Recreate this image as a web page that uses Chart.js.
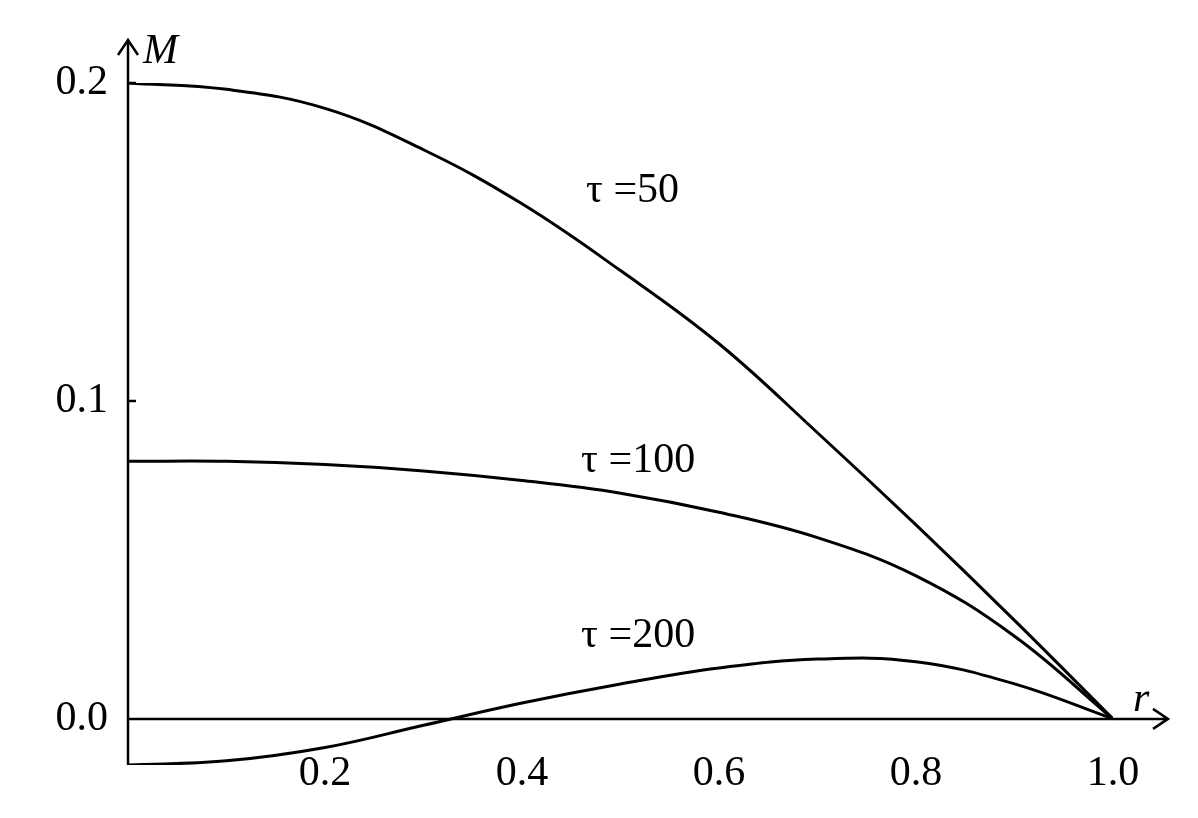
<!DOCTYPE html>
<html><head><meta charset="utf-8">
<script src="https://cdn.jsdelivr.net/npm/chart.js@4/dist/chart.umd.min.js"></script>
<style>html,body{margin:0;background:#fff}#wrap{width:1198px;height:818px}</style>
</head><body><div id="wrap"><canvas id="c"></canvas></div>
<script>
const rVals = [0,0.1,0.2,0.3,0.4,0.5,0.6,0.7,0.8,0.9,1.0];
const m50  = [0.200,0.198,0.192,0.179,0.162,0.141,0.118,0.090,0.061,0.031,0];
const m100 = [0.081,0.081,0.080,0.078,0.075,0.071,0.065,0.057,0.045,0.026,0];
const m200 = [-0.0145,-0.0132,-0.009,-0.002,0.005,0.011,0.016,0.0188,0.018,0.011,0];
const xTicks = [0.2,0.4,0.6,0.8,1.0];
const yTicks = [0.0,0.1,0.2];
const curveLabels = [['τ =50',0.465,0.166],['τ =100',0.46,0.081],['τ =200',0.46,0.026]];

function pts(ys){ return rVals.map((x,i)=>({x:x,y:ys[i]})); }
function ds(ys){ return {data:pts(ys),borderColor:'#000',borderWidth:3,pointRadius:0,tension:0.4,fill:false}; }

const axesPlugin = {
  id:'axes',
  afterDraw(chart){
    const ctx=chart.ctx, xs=chart.scales.x, ys=chart.scales.y, a=chart.chartArea;
    const x0=xs.getPixelForValue(0), y0=ys.getPixelForValue(0);
    ctx.save();
    ctx.strokeStyle='#000'; ctx.lineWidth=2.5;
    ctx.beginPath();
    ctx.moveTo(x0,a.bottom); ctx.lineTo(x0,40);
    ctx.moveTo(x0-10,55); ctx.lineTo(x0,40); ctx.lineTo(x0+10,55);
    ctx.moveTo(x0,y0); ctx.lineTo(1168,y0);
    ctx.moveTo(1153,y0-10); ctx.lineTo(1168,y0); ctx.lineTo(1153,y0+10);
    yTicks.forEach(v=>{ const p=ys.getPixelForValue(v); ctx.moveTo(x0,p); ctx.lineTo(x0+8,p); });
    ctx.stroke();
    ctx.fillStyle='#000';
    ctx.font='42px "Liberation Serif"';
    ctx.textAlign='right'; ctx.textBaseline='middle';
    yTicks.forEach(v=>ctx.fillText(v.toFixed(1),108,ys.getPixelForValue(v)));
    ctx.textAlign='center'; ctx.textBaseline='top';
    xTicks.forEach(v=>ctx.fillText(v.toFixed(1),xs.getPixelForValue(v),753));
    ctx.font='italic 42px "Liberation Serif"';
    ctx.textAlign='left'; ctx.textBaseline='middle';
    ctx.fillText('M',143,52);
    ctx.fillText('r',1133,700);
    ctx.font='42px "Liberation Serif"';
    curveLabels.forEach(l=>ctx.fillText(l[0],xs.getPixelForValue(l[1]),ys.getPixelForValue(l[2])));
    ctx.restore();
  }
};

new Chart(document.getElementById('c'),{
  type:'line',
  data:{datasets:[ds(m50),ds(m100),ds(m200)]},
  options:{
    responsive:true, maintainAspectRatio:false, animation:false,
    layout:{padding:{left:128,right:85,top:83,bottom:53}},
    plugins:{legend:{display:false},tooltip:{enabled:false}},
    scales:{
      x:{type:'linear',min:0,max:1,display:false},
      y:{min:-0.0145,max:0.2,display:false}
    }
  },
  plugins:[axesPlugin]
});
</script></body></html>
